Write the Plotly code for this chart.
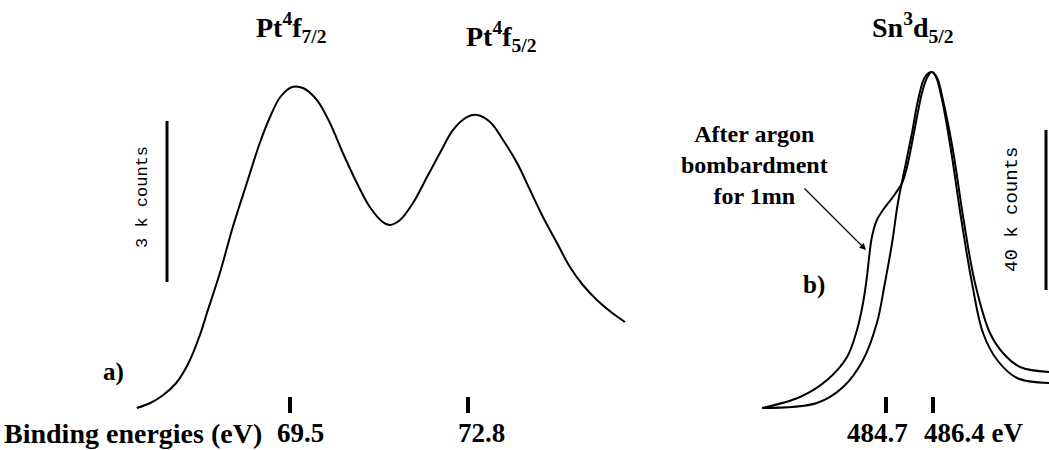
import plotly.graph_objects as go

# a) Pt 4f region: binding energy (eV) vs counts
pt_energy = [66.66, 66.91, 67.15, 67.39, 67.61, 67.83, 67.96, 68.20, 68.44, 68.70,
             68.94, 69.13, 69.32, 69.54, 69.74, 70.00, 70.24, 70.48, 70.74, 70.98,
             71.22, 71.35, 71.54, 71.78, 72.04, 72.28, 72.52, 72.78, 72.97, 73.21,
             73.45, 73.71, 73.95, 74.19, 74.45, 74.69, 74.93, 75.19, 75.45, 75.71]
pt_counts = [0, 93, 242, 466, 820, 1360, 1770, 2516, 3373, 4193,
             4938, 5422, 5795, 5982, 5963, 5739, 5311, 4752, 4193, 3745,
             3466, 3410, 3503, 3820, 4304, 4752, 5180, 5422, 5460, 5329,
             4994, 4565, 4062, 3559, 3075, 2627, 2292, 2012, 1789, 1603]

# b) Sn 3d5/2 region, after argon bombardment (with shoulder)
sn_ar_energy = [480.22, 481.59, 482.57, 483.29, 483.65, 483.87, 484.01, 484.09, 484.19,
                484.37, 484.59, 484.95, 485.28, 485.46, 485.64, 485.82, 486.00, 486.18,
                486.36, 486.55, 486.76, 487.12, 487.49, 487.92, 488.46, 488.93, 489.55,
                490.60]
sn_ar_counts = [0, 2750, 7000, 12750, 19500, 26250, 32750, 37750, 42750,
                47000, 49500, 52750, 56250, 60250, 66250, 72750, 78750, 82500,
                84000, 82500, 77000, 64500, 47750, 31250, 18750, 13750, 10250,
                9000]

# b) Sn 3d5/2 region, before bombardment
sn_energy = [480.22, 482.20, 483.15, 483.87, 484.37, 484.66, 484.92, 485.13, 485.39,
             485.64, 485.86, 486.11, 486.36, 486.51, 486.73, 487.05, 487.41, 487.81,
             488.21, 488.72, 489.44, 490.60]
sn_counts = [0, 1250, 5250, 12000, 21250, 31250, 41250, 51250, 60250,
             68750, 77000, 82750, 84000, 82750, 77000, 64500, 47750, 31250,
             18750, 12000, 7500, 6250]

pt_ticks = [69.5, 72.8]
pt_tick_labels = ["69.5", "72.8"]
sn_ticks = [484.7, 486.4]
sn_tick_labels = ["484.7", "486.4 eV"]
pt_scale = 3000
sn_scale = 40000

W, H = 1049, 450


def px(x):
    return x / W


def py(y):
    return 1 - y / H


# axis ranges so both panels share one canvas
k1 = pt_scale / 161.0
e1 = (pt_ticks[1] - pt_ticks[0]) / (468 - 290)
x1_range = [pt_ticks[0] - 290 * e1, pt_ticks[0] + (W - 290) * e1]
y1_range = [(408 - H) * k1, 408 * k1]
k2 = sn_scale / 160.0
e2 = (sn_ticks[1] - sn_ticks[0]) / (933 - 886)
x2_range = [sn_ticks[0] - 886 * e2, sn_ticks[0] + (W - 886) * e2]
y2_range = [(408 - H) * k2, 408 * k2]

line = dict(color="black", width=2, shape="spline", smoothing=1.0)
fig = go.Figure()
fig.add_trace(go.Scatter(x=pt_energy, y=pt_counts, mode="lines", line=line,
                         xaxis="x", yaxis="y", hoverinfo="skip"))
fig.add_trace(go.Scatter(x=sn_ar_energy, y=sn_ar_counts, mode="lines", line=line,
                         xaxis="x2", yaxis="y2", hoverinfo="skip"))
fig.add_trace(go.Scatter(x=sn_energy, y=sn_counts, mode="lines", line=line,
                         xaxis="x2", yaxis="y2", hoverinfo="skip"))

serif = "Liberation Serif"
mono = "Liberation Mono"
shapes = []
annotations = []
label_y = py(433)

# tick marks + labels
for t, lab, dx in zip(pt_ticks, pt_tick_labels, [10, 13]):
    shapes.append(dict(type="line", xref="x", yref="paper", x0=t, x1=t,
                       y0=py(413), y1=py(397), line=dict(color="black", width=4)))
    annotations.append(dict(x=t, y=label_y, xref="x", yref="paper", text="<b>%s</b>" % lab,
                            showarrow=False, xshift=dx, xanchor="center", yanchor="middle",
                            font=dict(family=serif, size=27, color="black")))
for t, lab, dx, anc in zip(sn_ticks, sn_tick_labels, [-9, -11], ["center", "left"]):
    shapes.append(dict(type="line", xref="x2", yref="paper", x0=t, x1=t,
                       y0=py(413), y1=py(397), line=dict(color="black", width=4)))
    annotations.append(dict(x=t, y=label_y, xref="x2", yref="paper", text="<b>%s</b>" % lab,
                            showarrow=False, xshift=dx, xanchor=anc, yanchor="middle",
                            font=dict(family=serif, size=27, color="black")))

# scale bars
bar1_x = pt_ticks[0] + (167 - 290) * e1
bar1_y0 = (408 - 282) * k1
shapes.append(dict(type="line", xref="x", yref="y", x0=bar1_x, x1=bar1_x,
                   y0=bar1_y0, y1=bar1_y0 + pt_scale, line=dict(color="black", width=3)))
bar2_x = sn_ticks[0] + (1046 - 886) * e2
bar2_y0 = (408 - 290) * k2
shapes.append(dict(type="line", xref="x2", yref="y2", x0=bar2_x, x1=bar2_x,
                   y0=bar2_y0, y1=bar2_y0 + sn_scale, line=dict(color="black", width=3)))


# titles and labels (explicit anchors: paper-ref "auto" would shift them)
def label(x, y, text, size=26, family=serif, **kw):
    kw.setdefault("xanchor", "center")
    annotations.append(dict(x=px(x), y=py(y), xref="paper", yref="paper", text=text,
                            yanchor="middle", showarrow=False,
                            font=dict(family=family, size=size, color="black"), **kw))


label(142, 197, "3 k counts", size=17, family=mono, textangle=-90)
label(1012, 210, "40 k counts", size=19, family=mono, textangle=-90)
label(291, 28, "<b>Pt<sup>4</sup>f<sub>7/2</sub></b>", size=28)
label(501, 37, "<b>Pt<sup>4</sup>f<sub>5/2</sub></b>", size=28)
label(913, 28, "<b>Sn<sup>3</sup>d<sub>5/2</sub></b>", size=28)
label(2, 433, "<b>Binding energies (eV)</b>", size=28, xanchor="left")
label(113, 372, "<b>a)</b>", size=25)
label(814, 285, "<b>b)</b>", size=25)
label(754, 165, "<b>After argon<br>bombardment<br>for 1mn</b>", size=24)

# arrow to the shoulder curve
annotations.append(dict(x=sn_ticks[0] + (866 - 886) * e2, y=(408 - 250) * k2, xref="x2", yref="y2",
                        ax=-63, ay=-63, text="", showarrow=True, arrowhead=2, arrowsize=1,
                        arrowwidth=1.3, arrowcolor="black"))

hidden = dict(visible=False, showgrid=False, zeroline=False)
fig.update_layout(
    width=W, height=H, margin=dict(l=0, r=0, t=0, b=0, pad=0),
    paper_bgcolor="white", plot_bgcolor="white", showlegend=False,
    xaxis=dict(range=x1_range, domain=[0, 1], **hidden),
    yaxis=dict(range=y1_range, domain=[0, 1], **hidden),
    xaxis2=dict(range=x2_range, overlaying="x", anchor="y2", **hidden),
    yaxis2=dict(range=y2_range, overlaying="y", anchor="x2", **hidden),
    shapes=shapes, annotations=annotations,
)
# drop the page's default body margin so the canvas sits at 0,0
fig.write_html("out.html", config={"displayModeBar": False},
               post_script="document.body.style.margin='0px';")
